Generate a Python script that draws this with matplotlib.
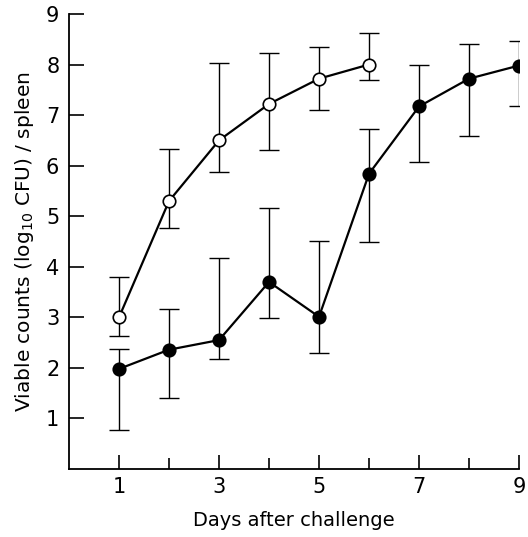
import numpy as np
import matplotlib.pyplot as plt

# open circles
days_open = [1, 2, 3, 4, 5, 6]
open_mean = [3.0, 5.3, 6.5, 7.22, 7.72, 8.0]
open_hi = [3.8, 6.32, 8.04, 8.22, 8.34, 8.62]
open_lo = [2.63, 4.77, 5.88, 6.30, 7.11, 7.70]

# filled circles
days_fill = [1, 2, 3, 4, 5, 6, 7, 8, 9]
fill_mean = [1.98, 2.36, 2.55, 3.70, 3.01, 5.84, 7.17, 7.72, 7.98]
fill_hi = [2.38, 3.17, 4.18, 5.17, 4.50, 6.73, 8.0, 8.40, 8.47]
fill_lo = [0.77, 1.41, 2.18, 2.99, 2.30, 4.49, 6.08, 6.59, 7.17]

fig = plt.figure(figsize=(5.28, 5.37), dpi=100)
ax = fig.add_axes([0.1307, 0.1266, 0.8523, 0.8474])

def draw(d, m, lo, hi, face):
    d = np.array(d); m = np.array(m)
    yerr = [m - np.array(lo), np.array(hi) - m]
    ax.errorbar(d, m, yerr=yerr, fmt='none', ecolor='black', elinewidth=1.0,
                capsize=7.5, capthick=1.0)
    ax.plot(d, m, '-', color='black', lw=1.6, marker='o', markersize=9,
            markerfacecolor=face, markeredgecolor='black', markeredgewidth=1.2)

draw(days_open, open_mean, open_lo, open_hi, 'white')
draw(days_fill, fill_mean, fill_lo, fill_hi, 'black')

ax.set_xlim(0, 9)
ax.set_ylim(0, 9)
ax.spines['top'].set_visible(False)
ax.spines['right'].set_visible(False)
ax.spines['left'].set_linewidth(1.3)
ax.spines['bottom'].set_linewidth(1.3)

ax.set_xticks([1, 3, 5, 7, 9])
ax.set_xticks([2, 4, 6, 8], minor=True)
ax.set_yticks([1, 2, 3, 4, 5, 6, 7, 8, 9])
ax.tick_params(axis='both', which='major', direction='in', width=1.2, labelsize=15)
ax.tick_params(axis='x', which='major', length=10, pad=6)
ax.tick_params(axis='x', which='minor', direction='in', length=8, width=1.2)
ax.tick_params(axis='y', which='major', length=11, pad=7)

ax.set_xlabel('Days after challenge', fontsize=14, labelpad=10)
ax.set_ylabel('Viable counts (log$_{10}$ CFU) / spleen', fontsize=14.5, labelpad=7)

fig.savefig('out.png', dpi=100)
